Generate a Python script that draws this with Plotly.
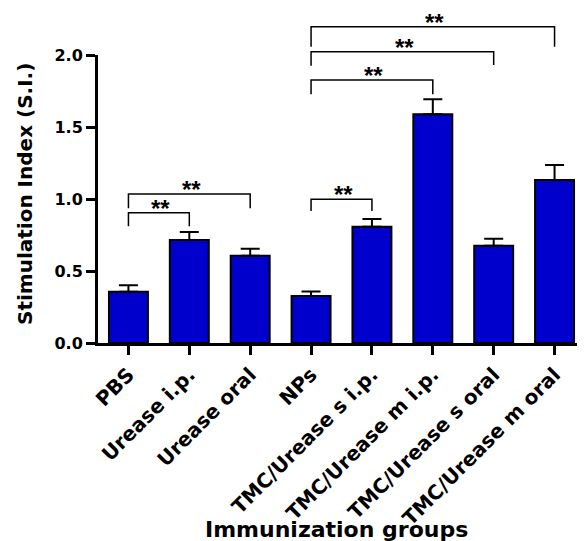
import plotly.graph_objects as go

categories = ["PBS", "Urease i.p.", "Urease oral", "NPs", "TMC/Urease s i.p.",
              "TMC/Urease m i.p.", "TMC/Urease s oral", "TMC/Urease m oral"]
means = [0.356, 0.715, 0.606, 0.326, 0.808, 1.588, 0.676, 1.132]
sems = [0.045, 0.055, 0.048, 0.032, 0.053, 0.104, 0.048, 0.104]

# significance brackets: (left index, right index, bar top level, left leg bottom, right leg bottom)
br_left = [0, 0, 3, 3, 3, 3]
br_right = [1, 2, 4, 5, 6, 7]
br_top = [0.905, 1.035, 0.998, 1.826, 2.023, 2.197]
br_leg_l = [0.810, 0.935, 0.917, 1.727, 1.926, 2.058]
br_leg_r = [0.810, 0.935, 0.917, 1.727, 1.930, 2.058]
br_text = ["**"] * 6

YMAX = 2.0
FONT = "DejaVu Sans"

fig = go.Figure()
fig.add_trace(go.Bar(
    x=list(range(len(categories))), y=means,
    width=0.64,
    marker=dict(color="#0000CC", line=dict(color="black", width=2)),
    error_y=dict(type="data", array=sems, arrayminus=[0] * len(sems),
                 symmetric=False, color="black", thickness=2, width=9.5),
))

shapes = []
annotations = []
for l, r, t, ll, lr, txt in zip(br_left, br_right, br_top, br_leg_l, br_leg_r, br_text):
    shapes.append(dict(
        type="path", xref="x", yref="paper",
        path=f"M {l},{ll / YMAX} L {l},{t / YMAX} L {r},{t / YMAX} L {r},{lr / YMAX}",
        line=dict(color="black", width=1.5),
    ))
    annotations.append(dict(
        x=(l + r) / 2, y=t / YMAX, xref="x", yref="paper",
        text=f"<b>{txt}</b>", showarrow=False, xanchor="center", yanchor="bottom",
        yshift=-11, xshift=2, font=dict(family="Liberation Sans", size=24, color="black"),
    ))

annotations.append(dict(
    text="<b>Stimulation Index (S.I.)</b>", textangle=-90,
    xref="paper", yref="paper", x=0, y=0.5, xanchor="center", yanchor="middle",
    xshift=-73.5, yshift=4.5, showarrow=False,
    font=dict(family=FONT, size=20, color="black"),
))
annotations.append(dict(
    text="<b>Immunization groups</b>",
    xref="paper", yref="paper", x=(336.5 - 98) / 487, y=0, xanchor="center", yanchor="top",
    yshift=-172, showarrow=False,
    font=dict(family=FONT, size=22, color="black"),
))

# page body has an 8px margin; size the figure so it fills the 585x541 window exactly
fig.update_layout(
    width=577, height=533,
    margin=dict(l=90, r=0, t=47, b=198, autoexpand=False),
    plot_bgcolor="white", paper_bgcolor="white",
    showlegend=False, bargap=0.36,
    shapes=shapes, annotations=annotations,
)
fig.update_xaxes(
    range=[-0.5, 7.5], tickmode="array", tickvals=list(range(len(categories))),
    ticktext=[f"<b>{c}</b>" for c in categories], tickangle=-45,
    showline=True, linecolor="black", linewidth=3,
    ticks="outside", ticklen=9, tickwidth=3, tickcolor="black",
    showgrid=False, zeroline=False, automargin=False,
    tickfont=dict(family=FONT, size=20, color="black"),
)
fig.update_yaxes(
    range=[0, YMAX], tickvals=[0, 0.5, 1.0, 1.5, 2.0],
    ticktext=["<b>0.0</b>", "<b>0.5</b>", "<b>1.0</b>", "<b>1.5</b>", "<b>2.0</b>"],
    showline=True, linecolor="black", linewidth=3,
    ticks="outside", ticklen=9, tickwidth=3, tickcolor="black",
    showgrid=False, zeroline=False, automargin=False,
    tickfont=dict(family=FONT, size=16, color="black"),
)

fig.write_html("out.html")
